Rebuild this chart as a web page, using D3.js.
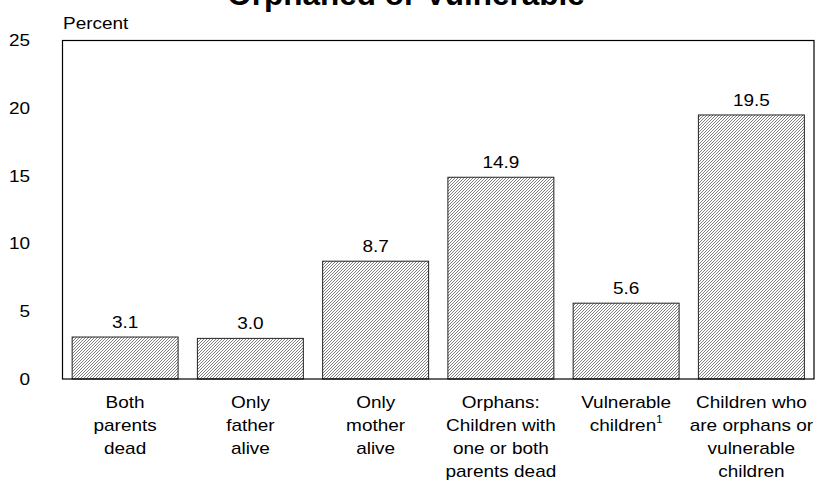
<!DOCTYPE html>
<html>
<head>
<meta charset="utf-8">
<script src="https://cdn.jsdelivr.net/npm/d3@7"></script>
<style>
html,body{margin:0;padding:0;background:#fff;}
svg{display:block;}
text{font-family:"Liberation Sans",Arial,sans-serif;fill:#000;}
</style>
</head>
<body>
<svg id="chart" width="820" height="481"></svg>
<script>
const categories = [
  ["Both","parents","dead"],
  ["Only","father","alive"],
  ["Only","mother","alive"],
  ["Orphans:","Children with","one or both","parents dead"],
  ["Vulnerable","children"],
  ["Children who","are orphans or","vulnerable","children"]
];
const footnotes = [null,null,null,null,"1",null];
const values = [3.1, 3.0, 8.7, 14.9, 5.6, 19.5];
const yTicks = [0,5,10,15,20,25];
const title = "Orphaned or Vulnerable";
const yLabel = "Percent";

const SX = 1.13, FS = 16.8;
const svg = d3.select("#chart");
const m = {left:62.5, right:814, top:40.5, bottom:379};

const defs = svg.append("defs");
const pat = defs.append("pattern").attr("id","hatch")
  .attr("patternUnits","userSpaceOnUse").attr("width",3).attr("height",3);
pat.append("rect").attr("width",3).attr("height",3).attr("fill","#fff");
pat.append("path").attr("d","M-1,1 L1,-1 M0,3 L3,0 M2,4 L4,2")
  .attr("stroke","#555").attr("stroke-width",0.75);

const x = d3.scaleBand().domain(d3.range(categories.length))
  .range([m.left, m.right]).paddingInner(0.154).paddingOuter(0.077);
const y = d3.scaleLinear().domain([0,25]).range([m.bottom, m.top]);

function stretched(g, px, py){
  return g.append("text").attr("transform",`translate(${px},${py}) scale(${SX},1)`);
}

// title
svg.append("text").attr("x",406).attr("y",5).attr("text-anchor","middle")
  .attr("font-size",31.5).attr("font-weight","bold").text(title);
stretched(svg,63,29).attr("font-size",FS).text(yLabel);

// y axis labels (no ticks)
const yAxis = d3.axisLeft(y).tickValues(yTicks).tickSize(0).tickPadding(0);
const ga = svg.append("g").attr("transform","translate(30,0)").call(yAxis);
ga.select(".domain").remove();
ga.selectAll("text").attr("font-size",FS).attr("font-family","Liberation Sans, Arial, sans-serif")
  .attr("fill","#000").attr("transform",`scale(${SX},1)`);

// bars
svg.append("g").selectAll("rect").data(values).join("rect")
  .attr("x",(d,i)=>x(i)).attr("width",x.bandwidth())
  .attr("y",d=>y(d)).attr("height",d=>y(0)-y(d))
  .attr("fill","url(#hatch)").attr("stroke","#222").attr("stroke-width",1);

// frame
svg.append("rect").attr("x",m.left).attr("y",m.top)
  .attr("width",m.right-m.left).attr("height",m.bottom-m.top)
  .attr("fill","none").attr("stroke","#000").attr("stroke-width",1.2);

// value labels
const vg = svg.append("g");
values.forEach((d,i)=>{
  stretched(vg, x(i)+x.bandwidth()/2, y(d)-9)
    .attr("text-anchor","middle").attr("font-size",FS).text(d.toFixed(1));
});

// category labels
const cg = svg.append("g");
categories.forEach((lines,i)=>{
  const t = stretched(cg, x(i)+x.bandwidth()/2, 408)
    .attr("text-anchor","middle").attr("font-size",FS);
  lines.forEach((ln,j)=>{
    const ts = t.append("tspan").attr("x",0).attr("dy",j===0?0:23).text(ln);
    if(j===lines.length-1 && footnotes[i]){
      ts.append("tspan").attr("font-size",10).attr("dy",-8).text(footnotes[i]);
    }
  });
});
</script>
</body>
</html>
